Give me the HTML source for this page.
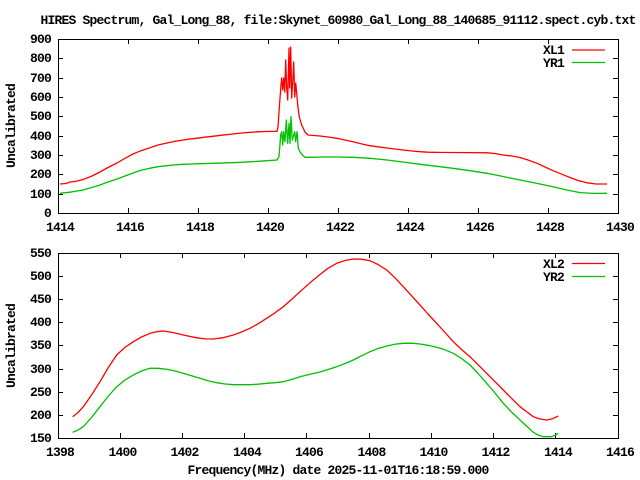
<!DOCTYPE html>
<html><head><meta charset="utf-8"><style>
html,body{margin:0;padding:0;background:#fff;}
svg{display:block;}
text{font-family:"Liberation Mono","DejaVu Sans Mono",monospace;font-weight:bold;font-size:13px;letter-spacing:-0.8px;fill:#000;}
</style></head><body>
<svg width="640" height="480" viewBox="0 0 640 480" xmlns="http://www.w3.org/2000/svg">
<rect width="640" height="480" fill="#fff"/>
<text x="338" y="24" text-anchor="middle">HIRES Spectrum, Gal_Long_88, file:Skynet_60980_Gal_Long_88_140685_91112.spect.cyb.txt</text>

<!-- TOP PLOT -->
<g stroke="#000" stroke-width="1" fill="none" shape-rendering="crispEdges">
<rect x="58.5" y="39.5" width="560" height="174"/>
<path d="M58 194.5h5M58 174.5h5M58 155.5h5M58 136.5h5M58 116.5h5M58 97.5h5M58 78.5h5M58 58.5h5
M618 194.5h-5M618 174.5h-5M618 155.5h-5M618 136.5h-5M618 116.5h-5M618 97.5h-5M618 78.5h-5M618 58.5h-5
M128.5 213v-5M198.5 213v-5M268.5 213v-5M338.5 213v-5M408.5 213v-5M478.5 213v-5M548.5 213v-5
M128.5 39v5M198.5 39v5M268.5 39v5M338.5 39v5M408.5 39v5M478.5 39v5M548.5 39v5"/>
</g>
<g text-anchor="end">
<text x="51" y="217">0</text>
<text x="51" y="198">100</text>
<text x="51" y="178">200</text>
<text x="51" y="159">300</text>
<text x="51" y="140">400</text>
<text x="51" y="120">500</text>
<text x="51" y="101">600</text>
<text x="51" y="82">700</text>
<text x="51" y="62">800</text>
<text x="51" y="43">900</text>
</g>
<g text-anchor="middle">
<text x="60" y="231">1414</text>
<text x="130" y="231">1416</text>
<text x="200" y="231">1418</text>
<text x="270" y="231">1420</text>
<text x="340" y="231">1422</text>
<text x="410" y="231">1424</text>
<text x="480" y="231">1426</text>
<text x="550" y="231">1428</text>
<text x="620" y="231">1430</text>
</g>
<text transform="translate(15,126) rotate(-90)" text-anchor="middle">Uncalibrated</text>
<text x="564" y="54" text-anchor="end">XL1</text>
<text x="564" y="67" text-anchor="end">YR1</text>
<line x1="572" y1="50" x2="605" y2="50" stroke="#ff0000" stroke-width="1.2"/>
<line x1="572" y1="62.5" x2="605" y2="62.5" stroke="#00c000" stroke-width="1.2"/>

<polyline fill="none" stroke="#ff0000" stroke-width="1.3" stroke-linejoin="round" points="60,184 66,183.5 70,182 76,181.3 83,179.5 91,176.5 100,172 108,167.5 117,163 125,158.3 133,154 141,150.7 150,147.7 158,145 167,143 175,141.3 183,140 192,138.8 200,137.8 208,136.8 217,135.8 225,134.8 233,134 242,133 250,132.3 258,131.8 265,131.5 277,131.3 278,127 279.5,105 281,85 281.7,78 282.7,90 283.7,78 284.7,92 285.7,60 286.7,88 287.7,100 289,48 289.7,88 290.7,47 291.7,98 292.7,82 293.7,62 294.7,97 295.7,83 296.7,93 297.7,105 299.3,117 301.7,125 305,132 308,135 314,135.5 320,136 328,137 337,138.3 345,140 353,141.8 362,144 370,145.7 378,146.8 387,148 395,149 403,150 412,151 420,151.7 428,152.2 437,152.4 453,152.5 470,152.6 487,152.8 495,153.5 503,155 512,156 520,157.5 528,160 537,163.3 545,167 553,170.7 562,174.3 570,177.5 578,180.5 587,182.8 596,184 607,184"/>
<polyline fill="none" stroke="#00c000" stroke-width="1.3" stroke-linejoin="round" points="60,193.3 70,192.2 83,190 91,187.8 100,185 108,182 117,179 125,176 133,173 141,170.3 150,168.2 158,166.7 167,165.7 175,164.9 183,164.3 192,164 200,163.7 217,163.2 233,162.7 250,161.8 267,160.7 277,160 279,156.7 280.7,135 281.7,131.7 282.7,145 283.7,131.7 285,141.7 286.3,120 287.7,143.3 289,123.3 290,143.3 291,116.7 292.3,140 293.7,135 294.7,131.7 295.7,141.7 297,131.7 298.3,148.3 300,151.7 302.3,155 305,157.3 312,157.3 320,157 337,157 353,157.3 370,158.3 387,160 403,162 420,164.3 437,166.3 453,168.3 470,170.7 487,173.3 503,176.5 520,180 537,183.4 553,186.8 567,190 580,192.6 593,193.4 607,193.3"/>

<!-- BOTTOM PLOT -->
<g stroke="#000" stroke-width="1" fill="none" shape-rendering="crispEdges">
<rect x="58.5" y="253.5" width="560" height="185"/>
<path d="M58 415.5h5M58 392.5h5M58 369.5h5M58 345.5h5M58 322.5h5M58 299.5h5M58 276.5h5
M618 415.5h-5M618 392.5h-5M618 369.5h-5M618 345.5h-5M618 322.5h-5M618 299.5h-5M618 276.5h-5
M120.5 438v-5M182.5 438v-5M244.5 438v-5M306.5 438v-5M369.5 438v-5M431.5 438v-5M493.5 438v-5M555.5 438v-5
M120.5 253v5M182.5 253v5M244.5 253v5M306.5 253v5M369.5 253v5M431.5 253v5M493.5 253v5M555.5 253v5"/>
</g>
<g text-anchor="end">
<text x="51" y="442">150</text>
<text x="51" y="419">200</text>
<text x="51" y="396">250</text>
<text x="51" y="373">300</text>
<text x="51" y="349">350</text>
<text x="51" y="326">400</text>
<text x="51" y="303">450</text>
<text x="51" y="280">500</text>
<text x="51" y="257">550</text>
</g>
<g text-anchor="middle">
<text x="60" y="456">1398</text>
<text x="122.5" y="456">1400</text>
<text x="184.5" y="456">1402</text>
<text x="247" y="456">1404</text>
<text x="309" y="456">1406</text>
<text x="371.5" y="456">1408</text>
<text x="433.5" y="456">1410</text>
<text x="495.5" y="456">1412</text>
<text x="558" y="456">1414</text>
<text x="620" y="456">1416</text>
</g>
<text transform="translate(15,346) rotate(-90)" text-anchor="middle">Uncalibrated</text>
<text x="338" y="474" text-anchor="middle">Frequency(MHz) date 2025-11-01T16:18:59.000</text>
<text x="564" y="268" text-anchor="end">XL2</text>
<text x="564" y="281" text-anchor="end">YR2</text>
<line x1="572" y1="263.5" x2="605" y2="263.5" stroke="#ff0000" stroke-width="1.2"/>
<line x1="572" y1="276.5" x2="605" y2="276.5" stroke="#00c000" stroke-width="1.2"/>

<polyline fill="none" stroke="#ff0000" stroke-width="1.3" stroke-linejoin="round" points="72.7,416.7 78,412.5 83.3,406.7 91.5,395 100,381.7 108,368 116.7,355 125,347.3 133.3,341.7 141.5,337 150,333.3 156.5,331.7 163.3,331 173,332.5 183.3,335 191.5,336.8 200,338.3 206.5,338.9 213.3,339 223,337.7 233.3,335 241.5,332 250,328.3 258,323.8 266.7,318.3 275,312.8 283.3,306.7 291.5,299.5 300,291.7 310,282.8 320,274.5 328,268.3 336.7,263.3 345,260.5 353.3,259 361.5,259.2 370,260.7 378,264.5 386.7,270 395,277.8 403.3,286.7 411.5,295.7 420,305 428,314 436.7,323.3 445,332.5 453.3,341.7 461.5,349.5 470,356.7 478,364.7 486.7,373.3 495,381.7 503.3,390 511.5,398.3 520,406.7 527,412 533.3,416.7 540,419 546.7,420 552.5,418.7 558.3,416"/>
<polyline fill="none" stroke="#00c000" stroke-width="1.3" stroke-linejoin="round" points="72.7,432.3 78,430 83.3,426.7 91.5,417.5 100,406.7 108,396.5 116.7,386.7 125,380 133.3,375 141.5,371 150,368.3 158,368.3 166.7,369.3 175,371 183.3,373.3 191.5,375.8 200,378.3 208,380.7 216.7,382.7 225,384 233.3,384.7 250,384.7 258,384.2 266.7,383.3 275,382.7 283.3,381.7 291.5,379.5 300,376.7 310,374.2 320,372 328,369.5 336.7,366.7 345,363.5 353.3,360 361.5,355.8 370,351.7 378,348.5 386.7,346 395,344.2 403.3,343.3 411.5,343.2 420,344 428,345.3 436.7,347.3 445,349.8 453.3,353.3 461.5,358.5 470,365 478,373.5 486.7,383.3 495,393 503.3,403.3 511.5,412 520,420 527,426.5 533.3,432.3 538,435 543.3,436.7 551.7,436.7 555,435.3 558.3,433.3"/>
</svg>
</body></html>
